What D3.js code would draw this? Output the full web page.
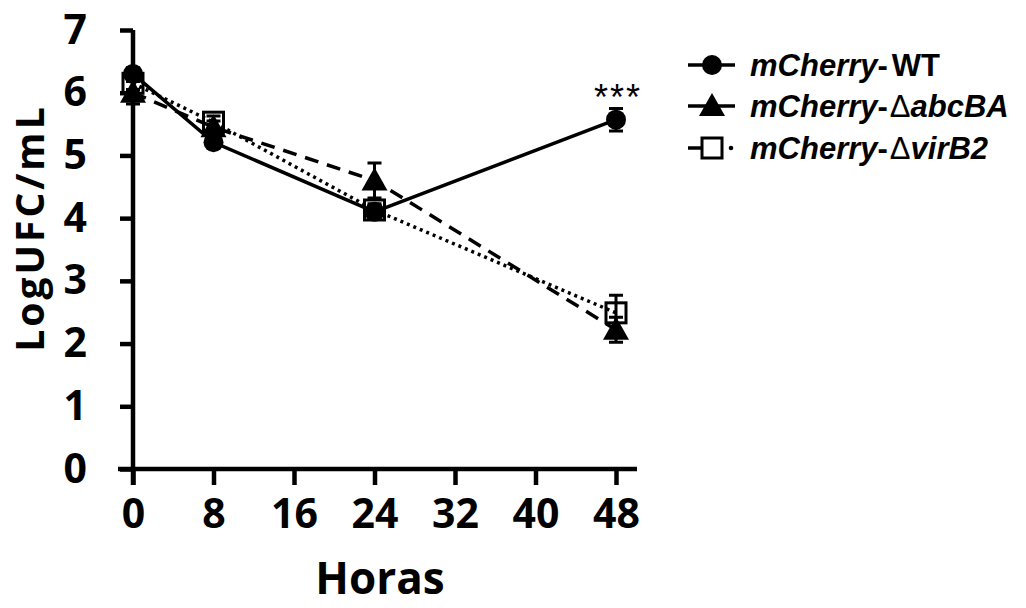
<!DOCTYPE html>
<html>
<head>
<meta charset="utf-8">
<script src="https://cdn.jsdelivr.net/npm/d3@7/dist/d3.min.js"></script>
<style>
  body { margin: 0; background: #fff; }
  svg { display: block; }
</style>
</head>
<body>
<svg></svg>
<script>
// data
var hours = [0, 8, 24, 48];
var wtMean = [6.3, 5.21, 4.1, 5.57];
var wtErr = [0.1, 0.08, 0.1, 0.18];
var abcMean = [6.0, 5.45, 4.6, 2.22];
var abcErr = [0.18, 0.1, 0.28, 0.2];
var virMean = [6.15, 5.53, 4.13, 2.49];
var virErr = [0.1, 0.1, 0.1, 0.28];
var xTicks = [0, 8, 16, 24, 32, 40, 48];
var yTicks = [0, 1, 2, 3, 4, 5, 6, 7];

var series = [
  {name: "WT", mean: wtMean, err: wtErr, shape: "circle", dash: null},
  {name: "abcBA", mean: abcMean, err: abcErr, shape: "triangle", dash: "14,9"},
  {name: "virB2", mean: virMean, err: virErr, shape: "square", dash: "3,4"}
];

var config = { w: 1026, h: 608, left: 133, right: 616, top: 30, bottom: 469 };

var svg = d3.select("svg").attr("width", config.w).attr("height", config.h);

var x = d3.scaleLinear().domain([0, 48]).range([config.left, config.right]);
var y = d3.scaleLinear().domain([0, 7]).range([config.bottom, config.top]);

var tickFont = "'Open Sans', sans-serif";

// y axis
var yAxis = svg.append("g")
  .attr("transform", "translate(" + config.left + ",0)")
  .call(d3.axisLeft(y).tickValues(yTicks).tickSize(13).tickPadding(33).tickFormat(d3.format("d")));
yAxis.select(".domain").attr("d", "M0," + config.top + "V" + (config.bottom + 16));

// x axis
var xAxis = svg.append("g")
  .attr("transform", "translate(0," + config.bottom + ")")
  .call(d3.axisBottom(x).tickValues(xTicks).tickSize(16).tickPadding(14).tickFormat(d3.format("d")));
xAxis.select(".domain").attr("d", "M" + (config.left - 15) + ",0H637");

svg.selectAll(".domain, .tick line")
  .attr("stroke", "#000").attr("stroke-width", 4.5).attr("stroke-linecap", "butt");
svg.selectAll(".tick text")
  .attr("fill", "#000")
  .style("font-family", tickFont).style("font-weight", "bold").style("font-size", "41px");

// axis titles
svg.append("text")
  .attr("transform", "translate(44,228) rotate(-90)")
  .attr("text-anchor", "middle")
  .style("font-family", tickFont).style("font-weight", "bold").style("font-size", "39px")
  .style("letter-spacing", "3px")
  .text("LogUFC/mL");

svg.append("text")
  .attr("x", 380).attr("y", 594)
  .attr("text-anchor", "middle")
  .style("font-family", tickFont).style("font-weight", "bold").style("font-size", "44px")
  .text("Horas");

var plot = svg.append("g");

var line = d3.line()
  .x(function(d) { return x(d.h); })
  .y(function(d) { return y(d.m); });

function rows(s) {
  return hours.map(function(h, i) { return {h: h, m: s.mean[i], e: s.err[i]}; });
}

// lines
series.forEach(function(s) {
  plot.append("path")
    .datum(rows(s))
    .attr("d", line)
    .attr("fill", "none")
    .attr("stroke", "#000")
    .attr("stroke-width", 3.5)
    .attr("stroke-dasharray", s.dash);
});

function drawMarker(g, shape, cx, cy) {
  if (shape === "circle") {
    g.append("circle").attr("cx", cx).attr("cy", cy).attr("r", 10).attr("fill", "#000");
  } else if (shape === "triangle") {
    g.append("path")
      .attr("d", "M" + cx + "," + (cy - 13) + "L" + (cx + 13) + "," + (cy + 10) + "L" + (cx - 13) + "," + (cy + 10) + "Z")
      .attr("fill", "#000");
  } else {
    g.append("rect").attr("x", cx - 10).attr("y", cy - 10).attr("width", 20).attr("height", 20)
      .attr("fill", "none").attr("stroke", "#000").attr("stroke-width", 3);
  }
}

// error bars and markers
[series[2], series[1], series[0]].forEach(function(s) {
  var g = plot.append("g");
  rows(s).forEach(function(d) {
    var cx = x(d.h), y0 = y(d.m - d.e), y1 = y(d.m + d.e);
    g.append("path")
      .attr("d", "M" + cx + "," + y0 + "V" + y1 +
                 "M" + (cx - 7) + "," + y0 + "H" + (cx + 7) +
                 "M" + (cx - 7) + "," + y1 + "H" + (cx + 7))
      .attr("stroke", "#000").attr("stroke-width", 3).attr("fill", "none");
    drawMarker(g, s.shape, cx, y(d.m));
  });
});

// significance
svg.append("text")
  .attr("x", x(48) + 2).attr("y", 110)
  .attr("text-anchor", "middle")
  .style("font-family", "'Liberation Sans', Arial, sans-serif").style("font-size", "36px")
  .style("letter-spacing", "2px")
  .text("***");

// legend
var legendY = [65, 106, 148];
var leg = svg.append("g");
series.forEach(function(s, i) {
  var ly = legendY[i];
  if (s.shape === "square") {
    leg.append("path").attr("d", "M688," + ly + "H702").attr("stroke", "#000").attr("stroke-width", 3.5);
    leg.append("circle").attr("cx", 731).attr("cy", ly).attr("r", 2.3).attr("fill", "#000");
  } else {
    leg.append("path").attr("d", "M688," + ly + "H735").attr("stroke", "#000").attr("stroke-width", 3.5);
  }
  drawMarker(leg, s.shape, 712, ly);

  var t = leg.append("text")
    .attr("x", 750).attr("y", ly + 11)
    .style("font-family", "'Liberation Sans', Arial, sans-serif")
    .style("font-weight", "bold").style("font-size", "31px");
  t.append("tspan").style("font-style", "italic").text("mCherry");
  t.append("tspan").text("-");
  if (s.name === "WT") {
    t.append("tspan").attr("dx", 4).text("WT");
  } else {
    t.append("tspan").attr("dx", 2).style("font-weight", "normal").text("\u0394");
    t.append("tspan").style("font-style", "italic").text(s.name);
  }
});
</script>
</body>
</html>
